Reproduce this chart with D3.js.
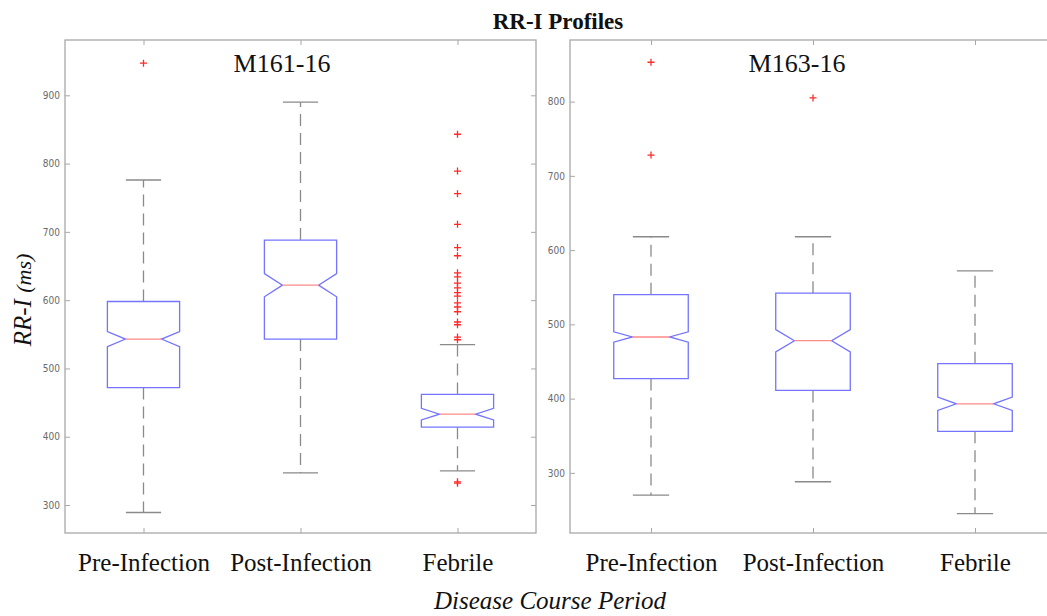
<!DOCTYPE html>
<html>
<head>
<meta charset="utf-8">
<script src="https://cdn.jsdelivr.net/npm/d3@7"></script>
<style>
  html, body { margin: 0; padding: 0; background: #fff; }
  svg { display: block; }
</style>
</head>
<body>
<svg id="chart" width="1047" height="616"></svg>
<script>
// Categories and labels
const categories = ["Pre-Infection", "Post-Infection", "Febrile"];
const panelNames = ["M161-16", "M163-16"];
const ticksM161 = [300, 400, 500, 600, 700, 800, 900];
const ticksM163 = [300, 400, 500, 600, 700, 800];

// M161-16 box statistics (ms)
const m161Lower   = [289, 347, 350];
const m161Q1      = [472, 543, 414];
const m161Median  = [543, 622, 433];
const m161Q3      = [598, 688, 462];
const m161Upper   = [776, 890, 535];
const m161Notch   = [11, 17, 8.5];
const m161Outliers = [
  [947],
  [],
  [843, 789, 756, 711, 677, 665, 640, 634, 625, 618, 611, 606, 596, 590, 583,
   568, 564, 546, 542, 332, 334]
];

// M163-16 box statistics (ms)
const m163Lower   = [270, 288, 245];
const m163Q1      = [427, 411, 356];
const m163Median  = [483, 478, 393];
const m163Q3      = [540, 542, 447];
const m163Upper   = [618, 618, 572];
const m163Notch   = [7, 15, 9];
const m163Outliers = [
  [853, 728],
  [805],
  []
];

const svg = d3.select("#chart");
const serif = "'Liberation Serif', 'Times New Roman', serif";

const panels = [
  { name: panelNames[0], x0: 65, x1: 536, domain: [259, 981], ticks: ticksM161,
    lower: m161Lower, q1: m161Q1, med: m161Median, q3: m161Q3, upper: m161Upper,
    notch: m161Notch, out: m161Outliers, titleX: 282 },
  { name: panelNames[1], x0: 570, x1: 1056, domain: [219, 883], ticks: ticksM163,
    lower: m163Lower, q1: m163Q1, med: m163Median, q3: m163Q3, upper: m163Upper,
    notch: m163Notch, out: m163Outliers, titleX: 797 }
];

const plotTop = 40, plotBottom = 533;
const axisGrey = "#a8a8a8";

panels.forEach(p => {
  const x = d3.scalePoint().domain(categories).range([p.x0, p.x1]).padding(0.5);
  const y = d3.scaleLinear().domain(p.domain).range([plotBottom, plotTop]);
  const step = x.step();
  const boxHalf = step * 0.23;
  const notchHalf = step * 0.115;
  const capHalf = step * 0.112;

  const g = svg.append("g");

  // frame
  g.append("rect")
    .attr("x", p.x0).attr("y", plotTop)
    .attr("width", p.x1 - p.x0).attr("height", plotBottom - plotTop)
    .attr("fill", "none").attr("stroke", axisGrey).attr("stroke-width", 1.3);

  // axes, ticks pointing inward
  const yl = g.append("g").attr("transform", `translate(${p.x0},0)`)
    .call(d3.axisLeft(y).tickValues(p.ticks).tickSizeInner(-5).tickSizeOuter(0).tickPadding(5));
  const yr = g.append("g").attr("transform", `translate(${p.x1},0)`)
    .call(d3.axisRight(y).tickValues(p.ticks).tickSizeInner(-5).tickSizeOuter(0).tickFormat(""));
  const xt = g.append("g").attr("transform", `translate(0,${plotTop})`)
    .call(d3.axisTop(x).tickSizeInner(-5).tickSizeOuter(0).tickFormat(""));
  const xb = g.append("g").attr("transform", `translate(0,${plotBottom})`)
    .call(d3.axisBottom(x).tickSizeInner(-5).tickSizeOuter(0).tickPadding(20));

  [yl, yr, xt, xb].forEach(a => {
    a.select(".domain").remove();
    a.selectAll(".tick line").attr("stroke", axisGrey).attr("stroke-width", 1);
  });
  yl.selectAll(".tick text")
    .attr("fill", "#6a6a6a")
    .style("font-family", "'DejaVu Sans Condensed', 'DejaVu Sans', sans-serif")
    .style("font-size", "10px");
  xb.selectAll(".tick text")
    .attr("fill", "#111")
    .style("font-family", serif)
    .style("font-size", "25px");

  // panel title
  g.append("text")
    .attr("x", p.titleX).attr("y", 72)
    .attr("text-anchor", "middle")
    .style("font-family", serif).style("font-size", "26px").attr("fill", "#111")
    .text(p.name);

  categories.forEach((c, i) => {
    const cx = x(c);
    const dash = "12,7";
    const wcol = "#8a8a8a";

    // whiskers
    g.append("line").attr("x1", cx).attr("x2", cx)
      .attr("y1", y(p.q3[i])).attr("y2", y(p.upper[i]))
      .attr("stroke", wcol).attr("stroke-width", 1.3).attr("stroke-dasharray", dash);
    g.append("line").attr("x1", cx).attr("x2", cx)
      .attr("y1", y(p.q1[i])).attr("y2", y(p.lower[i]))
      .attr("stroke", wcol).attr("stroke-width", 1.3).attr("stroke-dasharray", dash);
    [p.upper[i], p.lower[i]].forEach(v => {
      g.append("line").attr("x1", cx - capHalf).attr("x2", cx + capHalf)
        .attr("y1", y(v)).attr("y2", y(v))
        .attr("stroke", wcol).attr("stroke-width", 1.3);
    });

    // notched box
    const nTop = p.med[i] + p.notch[i], nBot = p.med[i] - p.notch[i];
    const pts = [
      [cx - boxHalf, y(p.q3[i])], [cx + boxHalf, y(p.q3[i])],
      [cx + boxHalf, y(nTop)], [cx + notchHalf, y(p.med[i])],
      [cx + boxHalf, y(nBot)], [cx + boxHalf, y(p.q1[i])],
      [cx - boxHalf, y(p.q1[i])], [cx - boxHalf, y(nBot)],
      [cx - notchHalf, y(p.med[i])], [cx - boxHalf, y(nTop)]
    ];
    g.append("path")
      .attr("d", d3.line()(pts) + "Z")
      .attr("fill", "none").attr("stroke", "#7474ff").attr("stroke-width", 1.3);

    // median
    g.append("line").attr("x1", cx - notchHalf).attr("x2", cx + notchHalf)
      .attr("y1", y(p.med[i])).attr("y2", y(p.med[i]))
      .attr("stroke", "#ff8a8a").attr("stroke-width", 1.3);

    // outliers
    p.out[i].forEach(v => {
      const oy = y(v);
      g.append("path")
        .attr("d", `M${cx - 3.5},${oy}H${cx + 3.5}M${cx},${oy - 3.5}V${oy + 3.5}`)
        .attr("stroke", "#ff2a2a").attr("stroke-width", 1.3).attr("fill", "none");
    });
  });
});

// titles
svg.append("text")
  .attr("x", 558).attr("y", 29)
  .attr("text-anchor", "middle")
  .style("font-family", serif).style("font-size", "23px").style("font-weight", "bold")
  .attr("fill", "#111")
  .text("RR-I Profiles");

svg.append("text")
  .attr("x", 550).attr("y", 609)
  .attr("text-anchor", "middle")
  .style("font-family", serif).style("font-size", "25px").style("font-style", "italic")
  .attr("fill", "#111")
  .text("Disease Course Period");

const yLabel = svg.append("text")
  .attr("transform", "translate(31,300) rotate(-90)")
  .attr("text-anchor", "middle")
  .style("font-family", serif).style("font-style", "italic")
  .attr("fill", "#111");
yLabel.append("tspan").style("font-size", "25px").text("RR-I ");
yLabel.append("tspan").style("font-size", "22px").text("(ms)");
</script>
</body>
</html>
